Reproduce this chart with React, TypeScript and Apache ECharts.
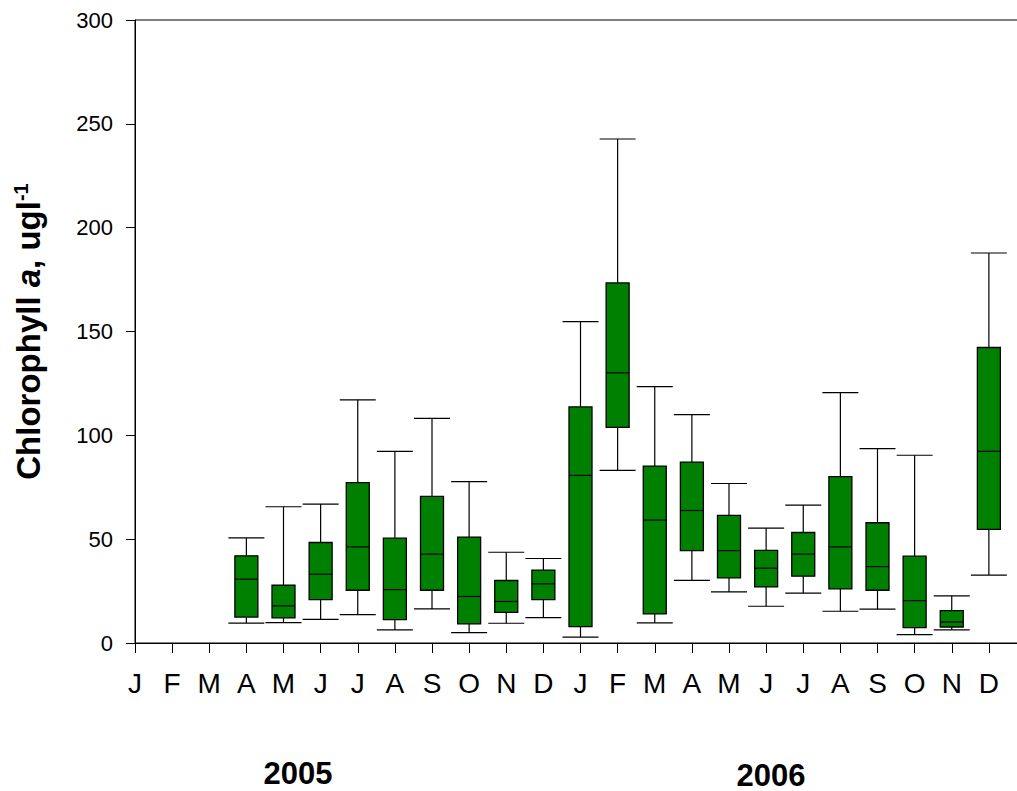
import React, { useEffect, useRef } from "react";
import * as echarts from "echarts";

const months = ["J", "F", "M", "A", "M", "J", "J", "A", "S", "O", "N", "D", "J", "F", "M", "A", "M", "J", "J", "A", "S", "O", "N", "D"];
const years = ["2005", "2006"];
const yTicks = [0, 50, 100, 150, 200, 250, 300];

const whiskerLow = [null, null, null, 9.6, 9.8, 11.4, 13.7, 6.3, 16.4, 5.0, 9.5, 12.2, 2.8, 83.1, 9.7, 30.2, 24.6, 17.7, 24.0, 15.3, 16.3, 4.0, 6.3, 32.7];
const q1 = [null, null, null, 12.5, 12.1, 20.9, 25.4, 11.3, 25.4, 9.2, 14.7, 20.9, 7.9, 103.8, 14.0, 44.5, 31.4, 27.0, 32.2, 26.1, 25.4, 7.4, 7.7, 54.7];
const median = [null, null, null, 30.7, 17.9, 33.1, 46.3, 25.7, 42.8, 22.4, 20.0, 28.5, 80.7, 130.1, 59.2, 63.8, 44.5, 36.0, 42.8, 46.3, 36.8, 20.4, 10.1, 92.3];
const q3 = [null, null, null, 42.0, 27.8, 48.4, 77.2, 50.5, 70.6, 51.0, 30.1, 35.1, 113.7, 173.4, 85.2, 87.1, 61.5, 44.6, 53.2, 80.1, 57.9, 41.8, 15.6, 142.3];
const whiskerHigh = [null, null, null, 50.6, 65.6, 66.9, 117.1, 92.3, 108.2, 77.7, 43.7, 40.7, 154.8, 242.7, 123.5, 110.0, 76.8, 55.3, 66.4, 120.6, 93.6, 90.4, 22.7, 187.8];

export default function App() {
  const ref = useRef<HTMLDivElement>(null);
  useEffect(() => {
    if (!ref.current) return;
    const chart = echarts.init(ref.current, null, { renderer: "svg" });
    const cats = [...months, ""];
    const data: any[] = [];
    months.forEach((_, i) => {
      if (median[i] == null) return;
      data.push([i, whiskerLow[i], q1[i], median[i], q3[i], whiskerHigh[i]]);
    });
    const font = "'Liberation Sans', Arial, sans-serif";
    chart.setOption({
      animation: false,
      backgroundColor: "#fff",
      grid: {
        left: 135, top: 20, bottom: 148, right: -9,
        outerBoundsMode: "none", containLabel: false,
        show: true, borderColor: "#000", borderWidth: 1, backgroundColor: "transparent",
      },
      xAxis: {
        type: "category",
        data: cats,
        boundaryGap: false,
        axisLine: { lineStyle: { color: "#000", width: 1 } },
        axisTick: { show: true, interval: 0, length: 10, lineStyle: { color: "#000", width: 1 } },
        axisLabel: { interval: 0, color: "#000", fontFamily: font, fontSize: 28, margin: 26 },
        splitLine: { show: false },
      },
      yAxis: {
        type: "value",
        min: yTicks[0],
        max: yTicks[yTicks.length - 1],
        interval: 50,
        axisLine: { show: true, lineStyle: { color: "#000", width: 1 } },
        axisTick: { show: true, length: 9, lineStyle: { color: "#000", width: 1 } },
        axisLabel: { color: "#000", fontFamily: font, fontSize: 22, margin: 22 },
        splitLine: { show: false },
        name: "{b|Chlorophyll }{i|a}{b|, ugl}{s|-1}",
        nameLocation: "middle",
        nameRotate: 90,
        nameGap: 90,
        nameTextStyle: {
          rich: {
            b: { fontFamily: font, fontWeight: "bold", fontSize: 33, color: "#000" },
            i: { fontFamily: font, fontWeight: "bold", fontStyle: "italic", fontSize: 33, color: "#000" },
            s: { fontFamily: font, fontWeight: "bold", fontSize: 20, color: "#000", verticalAlign: "top", padding: [0, 0, 14, 0] },
          },
        },
      },
      series: [
        {
          type: "custom",
          data,
          encode: { x: 0, y: [1, 2, 3, 4, 5] },
          renderItem: (params: any, api: any) => {
            const x = api.value(0);
            const lo = api.coord([x, api.value(1)]);
            const b1 = api.coord([x, api.value(2)]);
            const md = api.coord([x, api.value(3)]);
            const b3 = api.coord([x, api.value(4)]);
            const hi = api.coord([x, api.value(5)]);
            const cx = lo[0];
            const bw = 23;
            const cw = 36;
            const ls = { stroke: "#000", lineWidth: 1.2 };
            return {
              type: "group",
              children: [
                { type: "line", shape: { x1: cx, y1: hi[1], x2: cx, y2: b3[1] }, style: ls },
                { type: "line", shape: { x1: cx, y1: b1[1], x2: cx, y2: lo[1] }, style: ls },
                { type: "line", shape: { x1: cx - cw / 2, y1: hi[1], x2: cx + cw / 2, y2: hi[1] }, style: ls },
                { type: "line", shape: { x1: cx - cw / 2, y1: lo[1], x2: cx + cw / 2, y2: lo[1] }, style: ls },
                { type: "rect", shape: { x: cx - bw / 2, y: b3[1], width: bw, height: b1[1] - b3[1] }, style: { fill: "#008000", stroke: "#000", lineWidth: 1.3 } },
                { type: "line", shape: { x1: cx - bw / 2, y1: md[1], x2: cx + bw / 2, y2: md[1] }, style: ls },
              ],
            };
          },
        },
      ],
      graphic: [
        { type: "text", x: 298, y: 773, style: { text: years[0], fontFamily: font, fontWeight: "bold", fontSize: 31, fill: "#000", align: "center", verticalAlign: "middle" } },
        { type: "text", x: 771, y: 775, style: { text: years[1], fontFamily: font, fontWeight: "bold", fontSize: 31, fill: "#000", align: "center", verticalAlign: "middle" } },
      ],
    });
    return () => chart.dispose();
  }, []);
  return <div ref={ref} style={{ position: "absolute", left: 0, top: 0, width: 1017, height: 791 }} />;
}
